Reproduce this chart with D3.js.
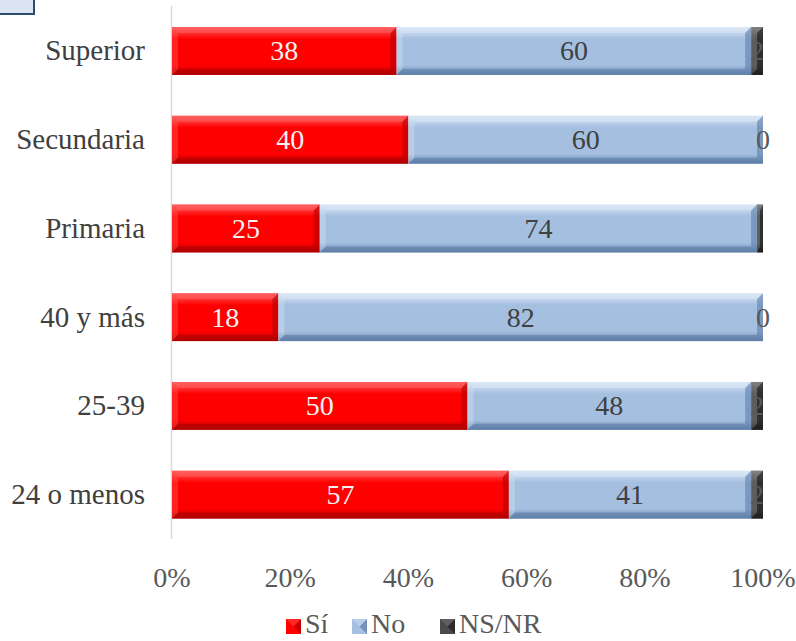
<!DOCTYPE html>
<html><head><meta charset="utf-8">
<script src="https://cdn.jsdelivr.net/npm/d3@7"></script>
<style>body{margin:0;background:#fff}svg{display:block}
svg text{font-family:"Liberation Serif","Times New Roman",Times,serif;font-size:28px}</style>
</head><body><svg id="c" width="796" height="641"></svg>
<script>
const categories = ["Superior","Secundaria","Primaria","40 y más","25-39","24 o menos"];
const si   = [38,40,25,18,50,57];
const no   = [60,60,74,82,48,41];
const nsnr = [2,0,1,0,2,2];
const seriesNames = ["Sí","No","NS/NR"];
const ticks = [0,20,40,60,80,100];

const svg = d3.select("#c");
const x = d3.scaleLinear().domain([0,100]).range([172,763]);
const y = d3.scaleBand().domain(categories).range([6.6,539]).paddingInner(0.46).paddingOuter(0.23);

const colors = [
  {base:"#ff0000", light:"#ff6060", dark:"#b00000", text:"#f2f2f2"},
  {base:"#a5bfe0", light:"#dbe7f6", dark:"#5f7fa8", text:"#404040"},
  {base:"#4a4a4a", light:"#808080", dark:"#1e1e1e", text:"#595959"}
];

const defs = svg.append("defs");
colors.forEach((c,k)=>{
  const gr = defs.append("linearGradient").attr("id","g"+k).attr("x1",0).attr("x2",0).attr("y1",0).attr("y2",1);
  gr.append("stop").attr("offset",0).attr("stop-color",c.light);
  gr.append("stop").attr("offset",0.25).attr("stop-color",c.base);
  gr.append("stop").attr("offset",0.8).attr("stop-color",c.base);
  gr.append("stop").attr("offset",1).attr("stop-color",c.dark);
});

svg.append("rect").attr("x",-2).attr("y",-2).attr("width",36).attr("height",16)
  .attr("fill","#dbe5f1").attr("stroke","#2f4b70").attr("stroke-width",2);

svg.append("line").attr("x1",x(0)-0.5).attr("x2",x(0)-0.5).attr("y1",6).attr("y2",539)
  .attr("stroke","#d9d9d9").attr("stroke-width",1.5);

const rows = categories.map((c,i)=>({c, v:[si[i],no[i],nsnr[i]]}));
rows.forEach(r=>{
  let acc=0;
  r.segs = r.v.map((v,k)=>{const s={k,v,x0:acc,x1:acc+v,c:r.c}; acc+=v; return s;});
});

const b = 6;
rows.forEach(r=>{
  const g = svg.append("g");
  r.segs.forEach(s=>{
    if (s.v<=0) return;
    const x0=x(s.x0), x1=x(s.x1), y0=y(s.c), y1=y0+y.bandwidth();
    const col=colors[s.k];
    const bb=Math.min(b,(x1-x0)/2);
    g.append("rect").attr("x",x0).attr("y",y0).attr("width",x1-x0).attr("height",y1-y0).attr("fill","url(#g"+s.k+")");
    g.append("polygon").attr("points",`${x0},${y0} ${x1},${y0} ${x1-bb},${y0+b} ${x0+bb},${y0+b}`).attr("fill",col.light).attr("opacity",0.55);
    g.append("polygon").attr("points",`${x0},${y1} ${x1},${y1} ${x1-bb},${y1-b} ${x0+bb},${y1-b}`).attr("fill",col.dark).attr("opacity",0.6);
    g.append("polygon").attr("points",`${x0},${y0} ${x0+bb},${y0+b} ${x0+bb},${y1-b} ${x0},${y1}`).attr("fill",col.light).attr("opacity",0.35);
    g.append("polygon").attr("points",`${x1},${y0} ${x1-bb},${y0+b} ${x1-bb},${y1-b} ${x1},${y1}`).attr("fill",col.dark).attr("opacity",0.6);
  });
  r.segs.forEach(s=>{
    if (s.k===2 && s.v===1) return;
    g.append("text").attr("x",(x(s.x0)+x(s.x1))/2).attr("y",y(s.c)+y.bandwidth()/2+9.5)
      .attr("text-anchor","middle").attr("fill",colors[s.k].text).text(s.v);
  });
});

svg.selectAll("text.cat").data(categories).enter().append("text").attr("class","cat")
  .attr("x",145).attr("y",d=>y(d)+y.bandwidth()/2+9.5).attr("text-anchor","end")
  .style("font-size","29px").attr("fill","#404040").text(d=>d);

svg.selectAll("text.tick").data(ticks).enter().append("text").attr("class","tick")
  .attr("x",d=>x(d)).attr("y",587).attr("text-anchor","middle")
  .attr("fill","#595959").text(d=>d+"%");

const lx=[286,352,440];
seriesNames.forEach((n,k)=>{
  const g=svg.append("g");
  const col=colors[k];
  g.append("rect").attr("x",lx[k]).attr("y",619).attr("width",15).attr("height",15).attr("fill",col.base);
  g.append("polygon").attr("points",`${lx[k]+15},619 ${lx[k]+15},634 ${lx[k]+7.5},626.5`).attr("fill",col.dark).attr("opacity",0.7);
  g.append("polygon").attr("points",`${lx[k]},619 ${lx[k]+15},619 ${lx[k]+7.5},626.5`).attr("fill",col.light).attr("opacity",0.4);
  g.append("text").attr("x",lx[k]+19).attr("y",633).attr("fill","#595959").text(n);
});
</script></body></html>
